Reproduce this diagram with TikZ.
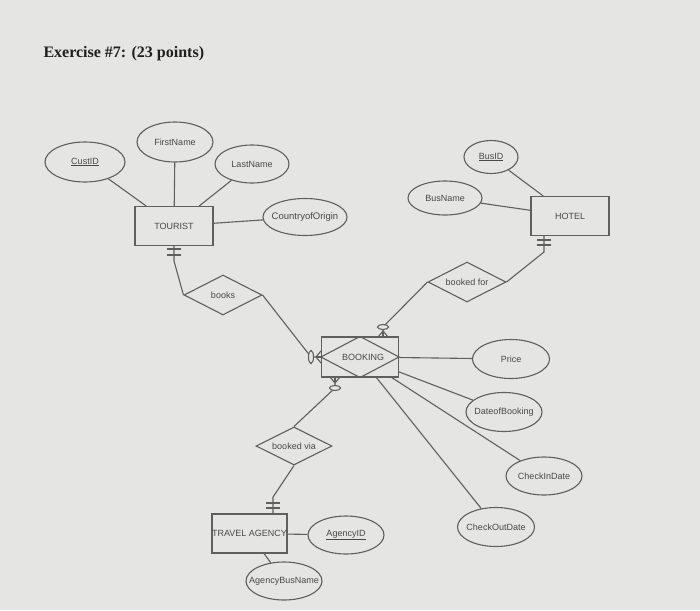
\documentclass[tikz,border=0pt]{standalone}
\usepackage{fontspec}
\setmainfont{Liberation Sans}
\newfontfamily\titlefont{Liberation Serif}
\usetikzlibrary{shapes.geometric,calc}
\definecolor{bg}{RGB}{229,229,227}
\definecolor{ln}{RGB}{95,95,95}
\definecolor{tx}{RGB}{72,72,72}
\begin{document}
\begin{tikzpicture}[x=1pt,y=-1pt,
  font=\fontsize{9}{10}\selectfont,
  attr/.style={ellipse, draw=ln, line width=1.1pt, inner sep=0pt, text=tx},
  ent/.style={rectangle, draw=ln, line width=1.1pt, inner sep=0pt, text=tx, minimum width=78, minimum height=39},
  rel/.style={diamond, draw=ln, line width=1.1pt, inner sep=0pt, text=tx, shape aspect=2, minimum width=78, minimum height=40},
  con/.style={draw=ln, line width=1.1pt},
  oval/.style={ellipse, draw=ln, fill=bg, line width=1.1pt, inner sep=0pt}]
\fill[bg] (0,0) rectangle (700,610);
\useasboundingbox (0,0) rectangle (700,610);

\node[anchor=base west, font=\titlefont\bfseries\fontsize{16}{18}\selectfont, text=black!88] (title) at (40,57) {Exercise \#7: (23 points)};

% entities
\node[ent] (tourist) at (174,226) {TOURIST};
\node[ent] (hotel) at (570,216) {HOTEL};
\node[ent, minimum width=77, minimum height=40] (booking) at (360,357) {};
\node[ent, minimum width=75, minimum height=39] (ta) at (249.5,533.5) {TRAVEL AGENCY};

% attributes
\node[attr, minimum width=80, minimum height=40] (custid) at (85,162) {\makebox[0pt]{\underline{CustID}}};
\node[attr, minimum width=76, minimum height=40] (first) at (175,142) {\makebox[0pt]{FirstName}};
\node[attr, minimum width=74, minimum height=38] (last) at (252,164) {\makebox[0pt]{LastName}};
\node[attr, minimum width=84, minimum height=37, font=\fontsize{9.5}{10}\selectfont] (country) at (305,217) {\makebox[0pt]{CountryofOrigin}};
\node[attr, minimum width=54, minimum height=33] (busid) at (491,157) {\makebox[0pt]{\underline{BusID}}};
\node[attr, minimum width=74, minimum height=34] (busname) at (445,198) {\makebox[0pt]{BusName}};
\node[attr, minimum width=77, minimum height=39] (price) at (511,359) {\makebox[0pt]{Price}};
\node[attr, minimum width=76, minimum height=39] (dob) at (504,412) {\makebox[0pt]{DateofBooking}};
\node[attr, minimum width=76, minimum height=38] (cin) at (544,476) {\makebox[0pt]{CheckInDate}};
\node[attr, minimum width=77, minimum height=39] (cout) at (496,527) {\makebox[0pt]{CheckOutDate}};
\node[attr, minimum width=76, minimum height=38] (agencyid) at (346,535) {\makebox[0pt]{\underline{AgencyID}}};
\node[attr, minimum width=76, minimum height=38] (abn) at (284,581) {\makebox[0pt]{AgencyBusName}};

% relationships
\node[rel] (books) at (223,295) {\makebox[0pt]{books}};
\node[rel] (bookedfor) at (467,282) {\makebox[0pt]{booked for}};
\node[rel, minimum width=76, minimum height=38] (bookedvia) at (294,446) {\makebox[0pt]{booked via}};

% BOOKING associative entity
\draw[con] (booking.west) -- (booking.north) -- (booking.east) -- (booking.south) -- cycle;
\node[text=tx] (bookingtxt) at (363,357) {BOOKING};

% attribute connectors
\draw[con] (custid) -- (tourist);
\draw[con] (first) -- (tourist);
\draw[con] (last) -- (tourist);
\draw[con] (country) -- (tourist);
\draw[con] (busid) -- (hotel);
\draw[con] (busname) -- (hotel);
\draw[con] (price) -- (booking);
\draw[con] (dob) -- (booking);
\draw[con] (cin) -- (booking);
\draw[con] (cout) -- (booking);
\draw[con] (agencyid) -- (ta);
\draw[con] (abn) -- (ta);

% TOURIST -- books (one and only one)
\coordinate (tbend) at (174,261);
\draw[con] (tourist.south) -- (tbend) -- (books.west);
\draw[con] (167,249) -- (181,249);
\draw[con] (167,255) -- (181,255);

% books -- BOOKING (zero or many)
\coordinate (bkL) at (311,357);
\coordinate (bkLf) at (316,357);
\draw[con] (books.east) -- (bkL) -- (bkLf);
\node[oval, minimum width=5, minimum height=13] (ovL) at (bkL) {};
\draw[con] (bkLf) -- (booking.west);
\draw[con] (bkLf) -- ($(booking.west)+(0,-6)$);
\draw[con] (bkLf) -- ($(booking.west)+(0,6)$);

% booked for -- BOOKING (zero or many)
\coordinate (bkT) at (383,327);
\coordinate (bkTf) at (383,331);
\draw[con] (bookedfor.west) -- (bkT) -- (bkTf);
\node[oval, minimum width=11, minimum height=5] (ovT) at (bkT) {};
\draw[con] (bkTf) -- (378,337);
\draw[con] (bkTf) -- (383,337);
\draw[con] (bkTf) -- (388,337);

% booked for -- HOTEL (one and only one)
\coordinate (hfoot) at (544,235.5);
\coordinate (hbend) at (544,252);
\draw[con] (bookedfor.east) -- (hbend) -- (hfoot);
\draw[con] (537,240) -- (551,240);
\draw[con] (537,245) -- (551,245);

% booked via -- BOOKING (zero or many)
\coordinate (bkB) at (335,388);
\coordinate (bkBf) at (335,383);
\draw[con] (bookedvia.north) -- (bkB) -- (bkBf);
\node[oval, minimum width=11, minimum height=5] (ovB) at (bkB) {};
\draw[con] (bkBf) -- (330,377);
\draw[con] (bkBf) -- (335,377);
\draw[con] (bkBf) -- (340,377);

% booked via -- TRAVEL AGENCY (one and only one)
\coordinate (tafoot) at (273,514);
\coordinate (tabend) at (273,497);
\draw[con] (bookedvia.south) -- (tabend) -- (tafoot);
\draw[con] (266,503) -- (280,503);
\draw[con] (266,508) -- (280,508);
\end{tikzpicture}
\end{document}
